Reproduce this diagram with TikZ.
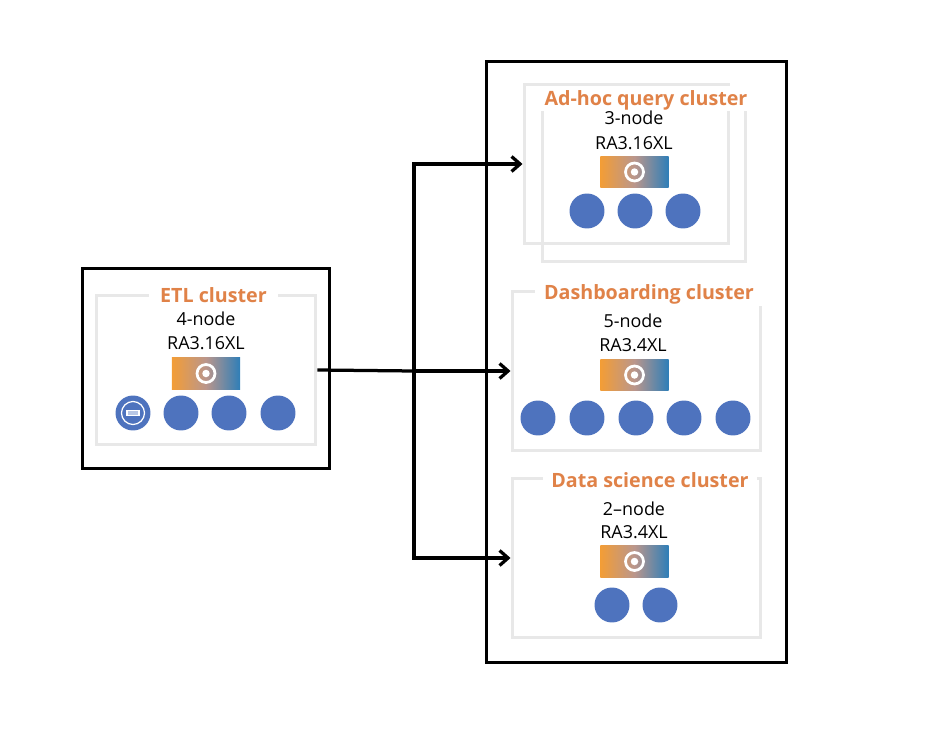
\documentclass[tikz,border=0pt]{standalone}
\usepackage{fontspec}
\setmainfont{Open Sans}
\usetikzlibrary{arrows.meta}
\definecolor{titleink}{RGB}{224, 130, 72}
\definecolor{boxgray}{RGB}{232, 232, 232}
\definecolor{nodeblue}{RGB}{78, 115, 190}
\definecolor{baramber}{RGB}{243, 157, 54}
\definecolor{barmauve}{RGB}{186, 150, 140}
\definecolor{barblue}{RGB}{46, 126, 184}
\tikzset{
  groupbox/.style={draw=black, line width=0.06cm, inner sep=0pt},
  clusterbox/.style={draw=boxgray, line width=0.06cm, inner sep=0pt},
  clustertitle/.style={fill=white, text=titleink, inner sep=0pt, text height=0.32cm, text depth=0.04cm,
    font=\fontsize{11.2}{14}\selectfont\bfseries},
  speclabel/.style={inner sep=0pt, text height=0.26cm, text depth=0cm, font=\fontsize{10.2}{13}\selectfont},
  workernode/.style={circle, fill=nodeblue, minimum size=0.7cm, inner sep=0pt},
  leadernode/.style={left color=baramber, right color=barblue, middle color=barmauve,
    minimum width=1.37cm, minimum height=0.64cm, inner sep=0pt},
  ringmark/.style={circle, draw=white, line width=0.055cm, minimum size=0.36cm, inner sep=0pt},
  dotmark/.style={circle, fill=white, minimum size=0.15cm, inner sep=0pt},
  link/.style={line width=0.065cm, >={Straight Barb[length=0.17cm, width=0.3cm]}}
}
\begin{document}
\begin{tikzpicture}[x=0.02cm, y=-0.02cm]
  \useasboundingbox (0,0) rectangle (938,730);

  % left group
  \node[groupbox, minimum width=4.96cm, minimum height=4.02cm] (etlgroup) at (206,368.5) {};
  \node[clusterbox, minimum width=4.4cm, minimum height=3.0cm] (etlbox) at (206,370) {};
  \node[clustertitle, minimum width=2.6cm, minimum height=0.42cm] (etltitle) at (213.5,296) {ETL cluster};
  \node[speclabel] (etlsize) at (206,319) {4-node};
  \node[speclabel] (etltype) at (206,343) {RA3.16XL};
  \node[leadernode] (etlbar) at (206,373.5) {};
  \node[ringmark] (etlring) at (206,373.5) {};
  \node[dotmark] (etldot) at (206,373.5) {};
  \node[workernode] (etlone) at (133,413) {};
  \node[workernode] (etltwo) at (181,413) {};
  \node[workernode] (etlthree) at (229,413) {};
  \node[workernode] (etlfour) at (278,413) {};
  \node[circle, draw=white, line width=0.025cm, minimum size=0.46cm, inner sep=0pt] (etlicon) at (133,413) {};
  \node[draw=white, fill=white!60!nodeblue, line width=0.025cm, minimum width=0.24cm, minimum height=0.11cm, inner sep=0pt] (etlslot) at (133,413) {};

  % right group
  \node[groupbox, minimum width=6.02cm, minimum height=12.02cm] (rightgroup) at (636.5,362) {};

  % ad-hoc
  \node[clusterbox, minimum width=4.1cm, minimum height=3.2cm] (adhocback) at (626.5,164) {};
  \node[clusterbox, minimum width=4.08cm, minimum height=3.24cm] (adhocbox) at (644,181) {};
  \node[clustertitle, minimum width=4.24cm, minimum height=0.52cm] (adhoctitle) at (646,98.5) {Ad-hoc query cluster};
  \node[speclabel] (adhocsize) at (634,118) {3-node};
  \node[speclabel] (adhoctype) at (634,143) {RA3.16XL};
  \node[leadernode] (adhocbar) at (634.5,172) {};
  \node[ringmark] (adhocring) at (634.5,172) {};
  \node[dotmark] (adhocdot) at (634.5,172) {};
  \node[workernode] (adhocone) at (587,211) {};
  \node[workernode] (adhoctwo) at (635,211) {};
  \node[workernode] (adhocthree) at (683,211) {};

  % dashboarding
  \node[clusterbox, minimum width=4.98cm, minimum height=3.18cm] (dashbox) at (636.5,371) {};
  \node[clustertitle, minimum width=4.56cm, minimum height=0.52cm] (dashtitle) at (649,293) {Dashboarding cluster};
  \node[speclabel] (dashsize) at (633,321) {5-node};
  \node[speclabel] (dashtype) at (633,345) {RA3.4XL};
  \node[leadernode] (dashbar) at (634.5,375) {};
  \node[ringmark] (dashring) at (634.5,375) {};
  \node[dotmark] (dashdot) at (634.5,375) {};
  \node[workernode] (dashone) at (538,418) {};
  \node[workernode] (dashtwo) at (587,418) {};
  \node[workernode] (dashthree) at (636,418) {};
  \node[workernode] (dashfour) at (684,418) {};
  \node[workernode] (dashfive) at (733,418) {};

  % data science
  \node[clusterbox, minimum width=4.98cm, minimum height=3.2cm] (sciencebox) at (636.5,558) {};
  \node[clustertitle, minimum width=4.28cm, minimum height=0.42cm] (sciencetitle) at (650,480) {Data science cluster};
  \node[speclabel] (sciencesize) at (634,509) {2–node};
  \node[speclabel] (sciencetype) at (634,532) {RA3.4XL};
  \node[leadernode] (sciencebar) at (634.5,561.5) {};
  \node[ringmark] (sciencering) at (634.5,561.5) {};
  \node[dotmark] (sciencedot) at (634.5,561.5) {};
  \node[workernode] (scienceone) at (612,605) {};
  \node[workernode] (sciencetwo) at (660,605) {};

  % links
  \coordinate (fork) at (414,371);
  \draw[link] (etlbox.east) -- (fork);
  \draw[link, ->] (fork) -- (dashbox.west);
  \draw[link, ->] (fork) |- (adhocback.west);
  \draw[link, ->] (fork) |- (sciencebox.west);
\end{tikzpicture}
\end{document}
